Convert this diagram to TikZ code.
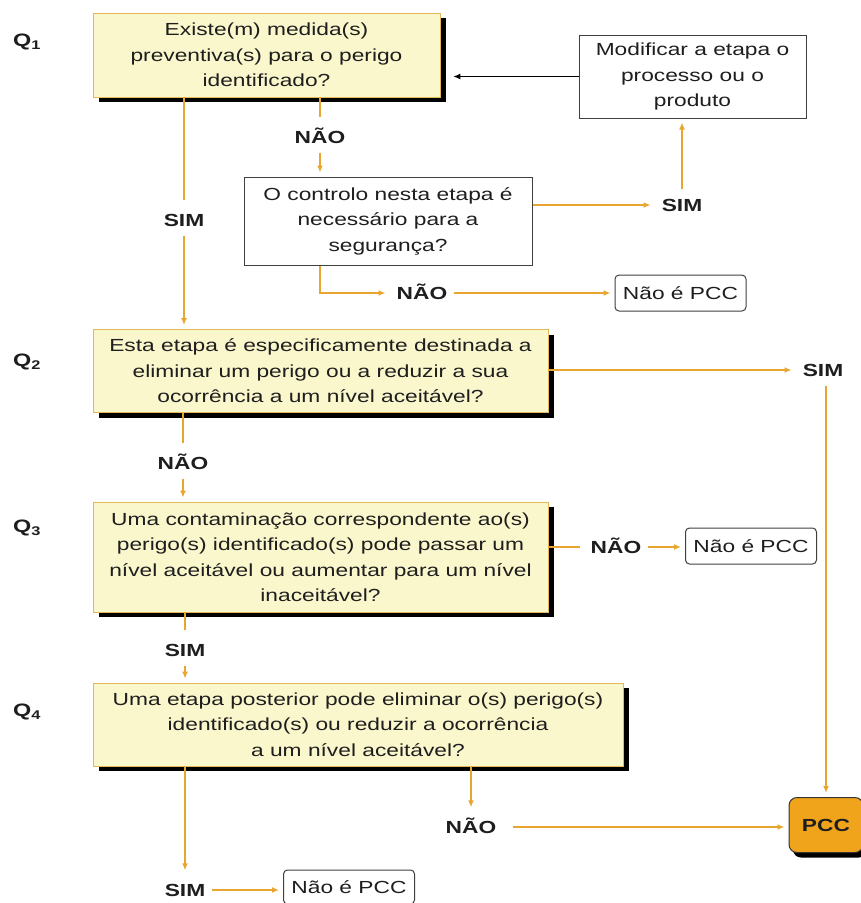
\documentclass[tikz,border=0pt]{standalone}
\usepackage{fontspec}
\setmainfont{Liberation Sans}[FakeStretch=1.3]
\usepackage{tikz}
\usetikzlibrary{positioning,shadows,arrows.meta}

\definecolor{boxfill}{HTML}{FBF7CD}
\definecolor{boxedge}{HTML}{E3B857}
\definecolor{flowcol}{HTML}{E8A630}
\definecolor{pccfill}{HTML}{F0A41C}
\definecolor{inkcol}{HTML}{1E1E1E}

\begin{document}
\begin{tikzpicture}[%
		x=1pt, y=-1pt,
		>={Latex[length=7pt,width=6pt]},
		shorten >=4pt,
		every node/.style={text=inkcol},
		qbox/.style={%
			draw=boxedge,
			line width=0.8pt,
			fill=boxfill,
			align=center,
			inner sep=0pt,
			font=\fontsize{17.5}{25.5}\selectfont,
			drop shadow={shadow xshift=6pt, shadow yshift=-5pt, fill=black, opacity=1}
		},
		wbox/.style={%
			draw=black!75,
			line width=1pt,
			fill=white,
			align=center,
			inner sep=0pt,
			font=\fontsize{17.5}{25.5}\selectfont
		},
		npcc/.style={%
			wbox,
			rounded corners=4pt,
			minimum width=131pt,
			minimum height=36pt
		},
		answer/.style={%
			font=\fontsize{17.5}{20}\selectfont\bfseries,
			text height=13pt,
			text depth=0pt,
			inner xsep=7pt,
			inner ysep=9pt
		},
		qlabel/.style={font=\fontsize{18}{20}\selectfont\bfseries},
		flow/.style={draw=flowcol, line width=1.6pt, -},
		flowto/.style={flow, ->}
		]
		\useasboundingbox (0,0) rectangle (861,903);

		% questions
		\node[qlabel] (Q1) at (27,42)  {Q\textsubscript{1}};
		\node[qlabel] (Q2) at (27,362) {Q\textsubscript{2}};
		\node[qlabel] (Q3) at (27,528) {Q\textsubscript{3}};
		\node[qlabel] (Q4) at (27,712) {Q\textsubscript{4}};

		\node[qbox, minimum width=347pt, minimum height=84pt] (q1) at (266.5,55)
			{Existe(m) medida(s)\\preventiva(s) para o perigo\\identificado?};
		\node[wbox, minimum width=227pt, minimum height=83pt] (mod) at (692.5,76.5)
			{Modificar a etapa o\\processo ou o\\produto};
		\node[wbox, minimum width=288pt, minimum height=88pt] (ctrl) at (388,221)
			{O controlo nesta etapa é\\necessário para a\\segurança?};
		\node[npcc] (npcc1) at (680.5,293) {Não é PCC};
		\node[qbox, minimum width=455pt, minimum height=83pt] (q2) at (320.5,371)
			{Esta etapa é especificamente destinada a\\eliminar um perigo ou a reduzir a sua\\ocorrência a um nível aceitável?};
		\node[qbox, minimum width=455pt, minimum height=110pt] (q3) at (320.5,557)
			{Uma contaminação correspondente ao(s)\\perigo(s) identificado(s) pode passar um\\nível aceitável ou aumentar para um nível\\inaceitável?};
		\node[npcc] (npcc2) at (751,546) {Não é PCC};
		\node[qbox, minimum width=530pt, minimum height=83pt] (q4) at (358,724.5)
			{Uma etapa posterior pode eliminar o(s) perigo(s)\\identificado(s) ou reduzir a ocorrência\\a um nível aceitável?};
		\node[npcc, minimum height=34pt] (npcc3) at (349,887) {Não é PCC};
		\node[draw=black!80, line width=1pt, fill=pccfill, rounded corners=8pt,
			minimum width=74pt, minimum height=55pt,
			font=\fontsize{17.5}{20}\selectfont\bfseries,
			drop shadow={shadow xshift=4pt, shadow yshift=-5pt, fill=black, opacity=1}] (pcc) at (826,825) {PCC};

		% answers
		\node[answer] (sim1) at (184,220) {SIM};
		\node[answer] (nao1) at (320,137) {NÃO};
		\node[answer] (sim2) at (682,205) {SIM};
		\node[answer] (nao2) at (422,293) {NÃO};
		\node[answer] (sim3) at (823,370) {SIM};
		\node[answer] (nao3) at (183,463) {NÃO};
		\node[answer] (nao4) at (616,547) {NÃO};
		\node[answer] (sim4) at (185,650) {SIM};
		\node[answer] (sim5) at (185,890) {SIM};
		\node[answer] (nao5) at (471,827) {NÃO};

		\draw[line width=1pt, ->, shorten >=13pt] (mod.west) -- (mod.west -| q1.east);

		\draw[flow] (q1.south -| sim1) -- (sim1);
		\draw[flowto] (sim1) -- (sim1 |- q2.north);
		\draw[flow] (q1.south -| nao1) -- (nao1);
		\draw[flowto] (nao1) -- (nao1 |- ctrl.north);
		\draw[flowto] (sim2 -| ctrl.east) -- (sim2);
		\draw[flowto] (sim2) -- (sim2 |- mod.south);
		\draw[flowto] (ctrl.south -| nao1) |- (nao2);
		\draw[flowto] (nao2) -- (nao2 -| npcc1.west);

		\draw[flowto] (sim3 -| q2.east) -- (sim3);
		\draw[flowto] (pcc |- sim3.south) -- (pcc);
		\draw[flow] (q2.south -| nao3) -- (nao3);
		\draw[flowto] (nao3) -- (nao3 |- q3.north);

		\draw[flow] (nao4 -| q3.east) -- (nao4);
		\draw[flowto] (nao4) -- (nao4 -| npcc2.west);
		\draw[flow] (q3.south -| sim4) -- (sim4);
		\draw[flowto] (sim4) -- (sim4 |- q4.north);

		\draw[flowto] (q4.south -| sim5) -- (sim5);
		\draw[flowto] (sim5) -- (sim5 -| npcc3.west);
		\draw[flowto] (q4.south -| nao5) -- (nao5);
		\draw[flowto, shorten <=10pt] (nao5) -- (nao5 -| pcc.west);
\end{tikzpicture}
\end{document}
